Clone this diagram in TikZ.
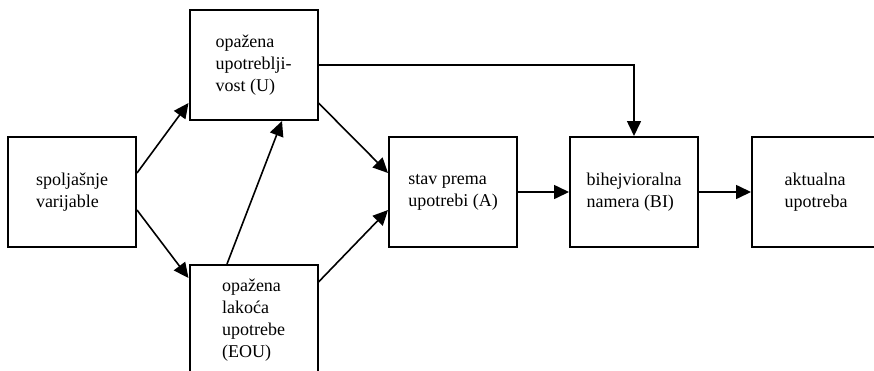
\documentclass[tikz,border=0pt]{standalone}
\usepackage{fontspec}
\setmainfont{Liberation Serif}
\usetikzlibrary{arrows.meta}
\begin{document}
\begin{tikzpicture}[x=1pt,y=-1pt,
  box/.style={draw, line width=2pt, minimum width=128pt, minimum height=110pt,
    align=left, font=\fontsize{18}{22}\selectfont, inner sep=0pt},
  conn/.style={line width=1.6pt, -{Triangle[length=15pt,width=14pt]}}]
\useasboundingbox (0,0) rectangle (874,370);
\clip (0,0) rectangle (874,370);
\node[box] (ext) at (72,192) {spoljašnje\\varijable};
\node[box] (U) at (253.5,65) {opažena\\upotreblji-\\vost (U)};
\node[box] (EOU) at (253.5,320) {opažena\\lakoća\\upotrebe\\(EOU)};
\node[box] (A) at (453,192) {stav prema\\upotrebi (A)};
\node[box] (BI) at (634,192) {bihejvioralna\\namera (BI)};
\node[box] (act) at (816,192) {aktualna\\upotreba};
\draw[conn] ([yshift=19pt]ext.east) -- ([yshift=-38pt]U.west);
\draw[conn] ([yshift=-18pt]ext.east) -- ([yshift=42pt]EOU.west);
\draw[conn] ([xshift=-26.5pt]EOU.north) -- ([xshift=28.5pt]U.south);
\draw[conn] ([yshift=-38pt]U.east) -- ([yshift=19pt]A.west);
\draw[conn] ([yshift=38pt]EOU.east) -- ([yshift=-18pt]A.west);
\draw[conn] (U.east) -| (BI.north);
\draw[conn] (A.east) -- (BI.west);
\draw[conn] (BI.east) -- (act.west);
\end{tikzpicture}
\end{document}
